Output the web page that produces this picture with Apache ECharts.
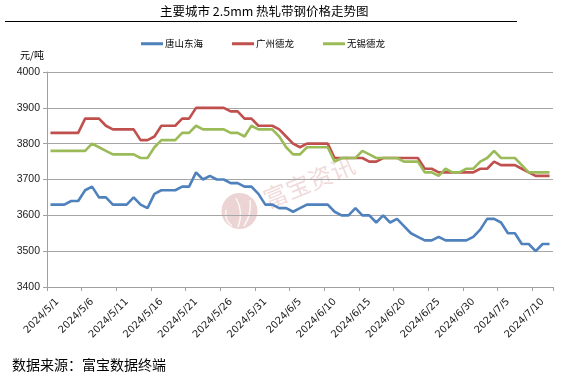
<!DOCTYPE html>
<html>
<head>
<meta charset="utf-8">
<script src="https://cdn.jsdelivr.net/npm/echarts@6/dist/echarts.min.js"></script>
<style>
html,body{margin:0;padding:0;background:#fff;}
#c{width:578px;height:381px;}
</style>
</head>
<body>
<div id="c"></div>
<script>
const dates = [
'2024/5/1','2024/5/2','2024/5/3','2024/5/4','2024/5/5','2024/5/6','2024/5/7','2024/5/8','2024/5/9','2024/5/10',
'2024/5/11','2024/5/12','2024/5/13','2024/5/14','2024/5/15','2024/5/16','2024/5/17','2024/5/18','2024/5/19','2024/5/20',
'2024/5/21','2024/5/22','2024/5/23','2024/5/24','2024/5/25','2024/5/26','2024/5/27','2024/5/28','2024/5/29','2024/5/30',
'2024/5/31','2024/6/1','2024/6/2','2024/6/3','2024/6/4','2024/6/5','2024/6/6','2024/6/7','2024/6/8','2024/6/9',
'2024/6/10','2024/6/11','2024/6/12','2024/6/13','2024/6/14','2024/6/15','2024/6/16','2024/6/17','2024/6/18','2024/6/19',
'2024/6/20','2024/6/21','2024/6/22','2024/6/23','2024/6/24','2024/6/25','2024/6/26','2024/6/27','2024/6/28','2024/6/29',
'2024/6/30','2024/7/1','2024/7/2','2024/7/3','2024/7/4','2024/7/5','2024/7/6','2024/7/7','2024/7/8','2024/7/9',
'2024/7/10','2024/7/11','2024/7/12'
];
const seriesNames = ['唐山东海','广州德龙','无锡德龙'];
const tangshan = [
3630,3630,3630,3640,3640,3670,3680,3650,3650,3630,
3630,3630,3650,3630,3620,3660,3670,3670,3670,3680,
3680,3720,3700,3710,3700,3700,3690,3690,3680,3680,
3660,3630,3630,3620,3620,3610,3620,3630,3630,3630,
3630,3610,3600,3600,3620,3600,3600,3580,3600,3580,
3590,3570,3550,3540,3530,3530,3540,3530,3530,3530,
3530,3540,3560,3590,3590,3580,3550,3550,3520,3520,
3500,3520,3520
];
const guangzhou = [
3830,3830,3830,3830,3830,3870,3870,3870,3850,3840,
3840,3840,3840,3810,3810,3820,3850,3850,3850,3870,
3870,3900,3900,3900,3900,3900,3890,3890,3870,3870,
3850,3850,3850,3840,3820,3800,3790,3800,3800,3800,
3800,3760,3760,3760,3760,3760,3750,3750,3760,3760,
3760,3760,3760,3760,3730,3730,3720,3720,3720,3720,
3720,3720,3730,3730,3750,3740,3740,3740,3730,3720,
3710,3710,3710
];
const wuxi = [
3780,3780,3780,3780,3780,3780,3800,3790,3780,3770,
3770,3770,3770,3760,3760,3790,3810,3810,3810,3830,
3830,3850,3840,3840,3840,3840,3830,3830,3820,3850,
3840,3840,3840,3820,3790,3770,3770,3790,3790,3790,
3790,3750,3760,3760,3760,3780,3770,3760,3760,3760,
3760,3750,3750,3750,3720,3720,3710,3730,3720,3720,
3730,3730,3750,3760,3780,3760,3760,3760,3740,3720,
3720,3720,3720
];
const yTicks = {min: 3400, max: 4000, step: 100};
const colors = ['#4F81BD','#C0504D','#9BBB59'];

const chart = echarts.init(document.getElementById('c'), null, {renderer:'canvas'});
const numFont = '"Liberation Sans", Arial, sans-serif';
const cjkFont = '"Noto Sans CJK SC", sans-serif';
chart.setOption({
  animation: false,
  backgroundColor: '#fff',
  title: {
    text: '主要城市 2.5mm 热轧带钢价格走势图',
    left: 155, top: 0,
    textStyle: {fontFamily: cjkFont, fontSize: 12.5, fontWeight: 'normal', color: '#000'}
  },
  legend: {
    data: seriesNames,
    top: 34, left: 136,
    icon: 'rect', itemWidth: 22, itemHeight: 3, itemGap: 29,
    textStyle: {fontFamily: cjkFont, fontSize: 9.5, color: '#000', padding: [0,0,0,-3]}
  },
  grid: {left: 47, right: 25, top: 72, bottom: 94},
  xAxis: {
    type: 'category',
    data: dates,
    boundaryGap: true,
    axisLine: {lineStyle: {color: '#A0A0A0', width: 1}},
    axisTick: {show: true, interval: 4, length: 4, lineStyle: {color: '#A0A0A0'}},
    axisLabel: {interval: 4, rotate: 45, fontSize: 10, color: '#222', fontFamily: '"DejaVu Sans", sans-serif',
      margin: 6, verticalAlign: 'top', padding: [5, 0, 0, 0]},
    splitLine: {show: false}
  },
  yAxis: {
    type: 'value',
    min: yTicks.min, max: yTicks.max, interval: yTicks.step,
    axisLine: {show: true, lineStyle: {color: '#A0A0A0', width: 1}},
    axisTick: {show: true, length: 4, lineStyle: {color: '#A0A0A0'}},
    axisLabel: {fontSize: 10.5, color: '#222', fontFamily: numFont, margin: 7, formatter: function (v) { return String(v); }},
    splitLine: {lineStyle: {color: '#A6A6A6', width: 1}}
  },
  graphic: [
    {type: 'line', shape: {x1: 5, y1: 21.5, x2: 517, y2: 21.5}, style: {stroke: '#000', lineWidth: 1}},
    {type: 'text', left: 20, top: 50, style: {text: '元/吨', font: '10px "Noto Sans CJK SC"', fill: '#000'}},
    {type: 'text', left: 12, top: 358, style: {text: '数据来源：富宝数据终端', font: '14px "Noto Sans CJK SC"', fill: '#000'}},
    {type: 'circle', shape: {cx: 239.5, cy: 211, r: 18}, style: {fill: 'rgba(214,160,160,0.45)'}, z: -1},
    {type: 'bezierCurve', shape: {x1: 232, y1: 226, x2: 226, y2: 210, cpx1: 224, cpy1: 220}, style: {stroke: 'rgba(255,255,255,0.8)', lineWidth: 1.5, fill: null}, z: -1},
    {type: 'bezierCurve', shape: {x1: 238, y1: 227, x2: 236, y2: 198, cpx1: 244, cpy1: 212}, style: {stroke: 'rgba(255,255,255,0.8)', lineWidth: 1.5, fill: null}, z: -1},
    {type: 'bezierCurve', shape: {x1: 244, y1: 226, x2: 250, y2: 200, cpx1: 252, cpy1: 214}, style: {stroke: 'rgba(255,255,255,0.8)', lineWidth: 1.5, fill: null}, z: -1},
    {type: 'text', x: 309, y: 182, rotation: 0.39, z: -1,
      style: {text: '富宝资讯', font: '24px "Noto Sans CJK SC"', fill: 'rgba(214,150,150,0.35)', textAlign: 'center', textVerticalAlign: 'middle'}}
  ],
  series: [
    {name: seriesNames[0], type: 'line', data: tangshan, symbol: 'none', color: colors[0], lineStyle: {width: 2.6, color: colors[0]}},
    {name: seriesNames[1], type: 'line', data: guangzhou, symbol: 'none', color: colors[1], lineStyle: {width: 2.6, color: colors[1]}},
    {name: seriesNames[2], type: 'line', data: wuxi, symbol: 'none', color: colors[2], lineStyle: {width: 2.6, color: colors[2]}}
  ]
});
</script>
</body>
</html>
